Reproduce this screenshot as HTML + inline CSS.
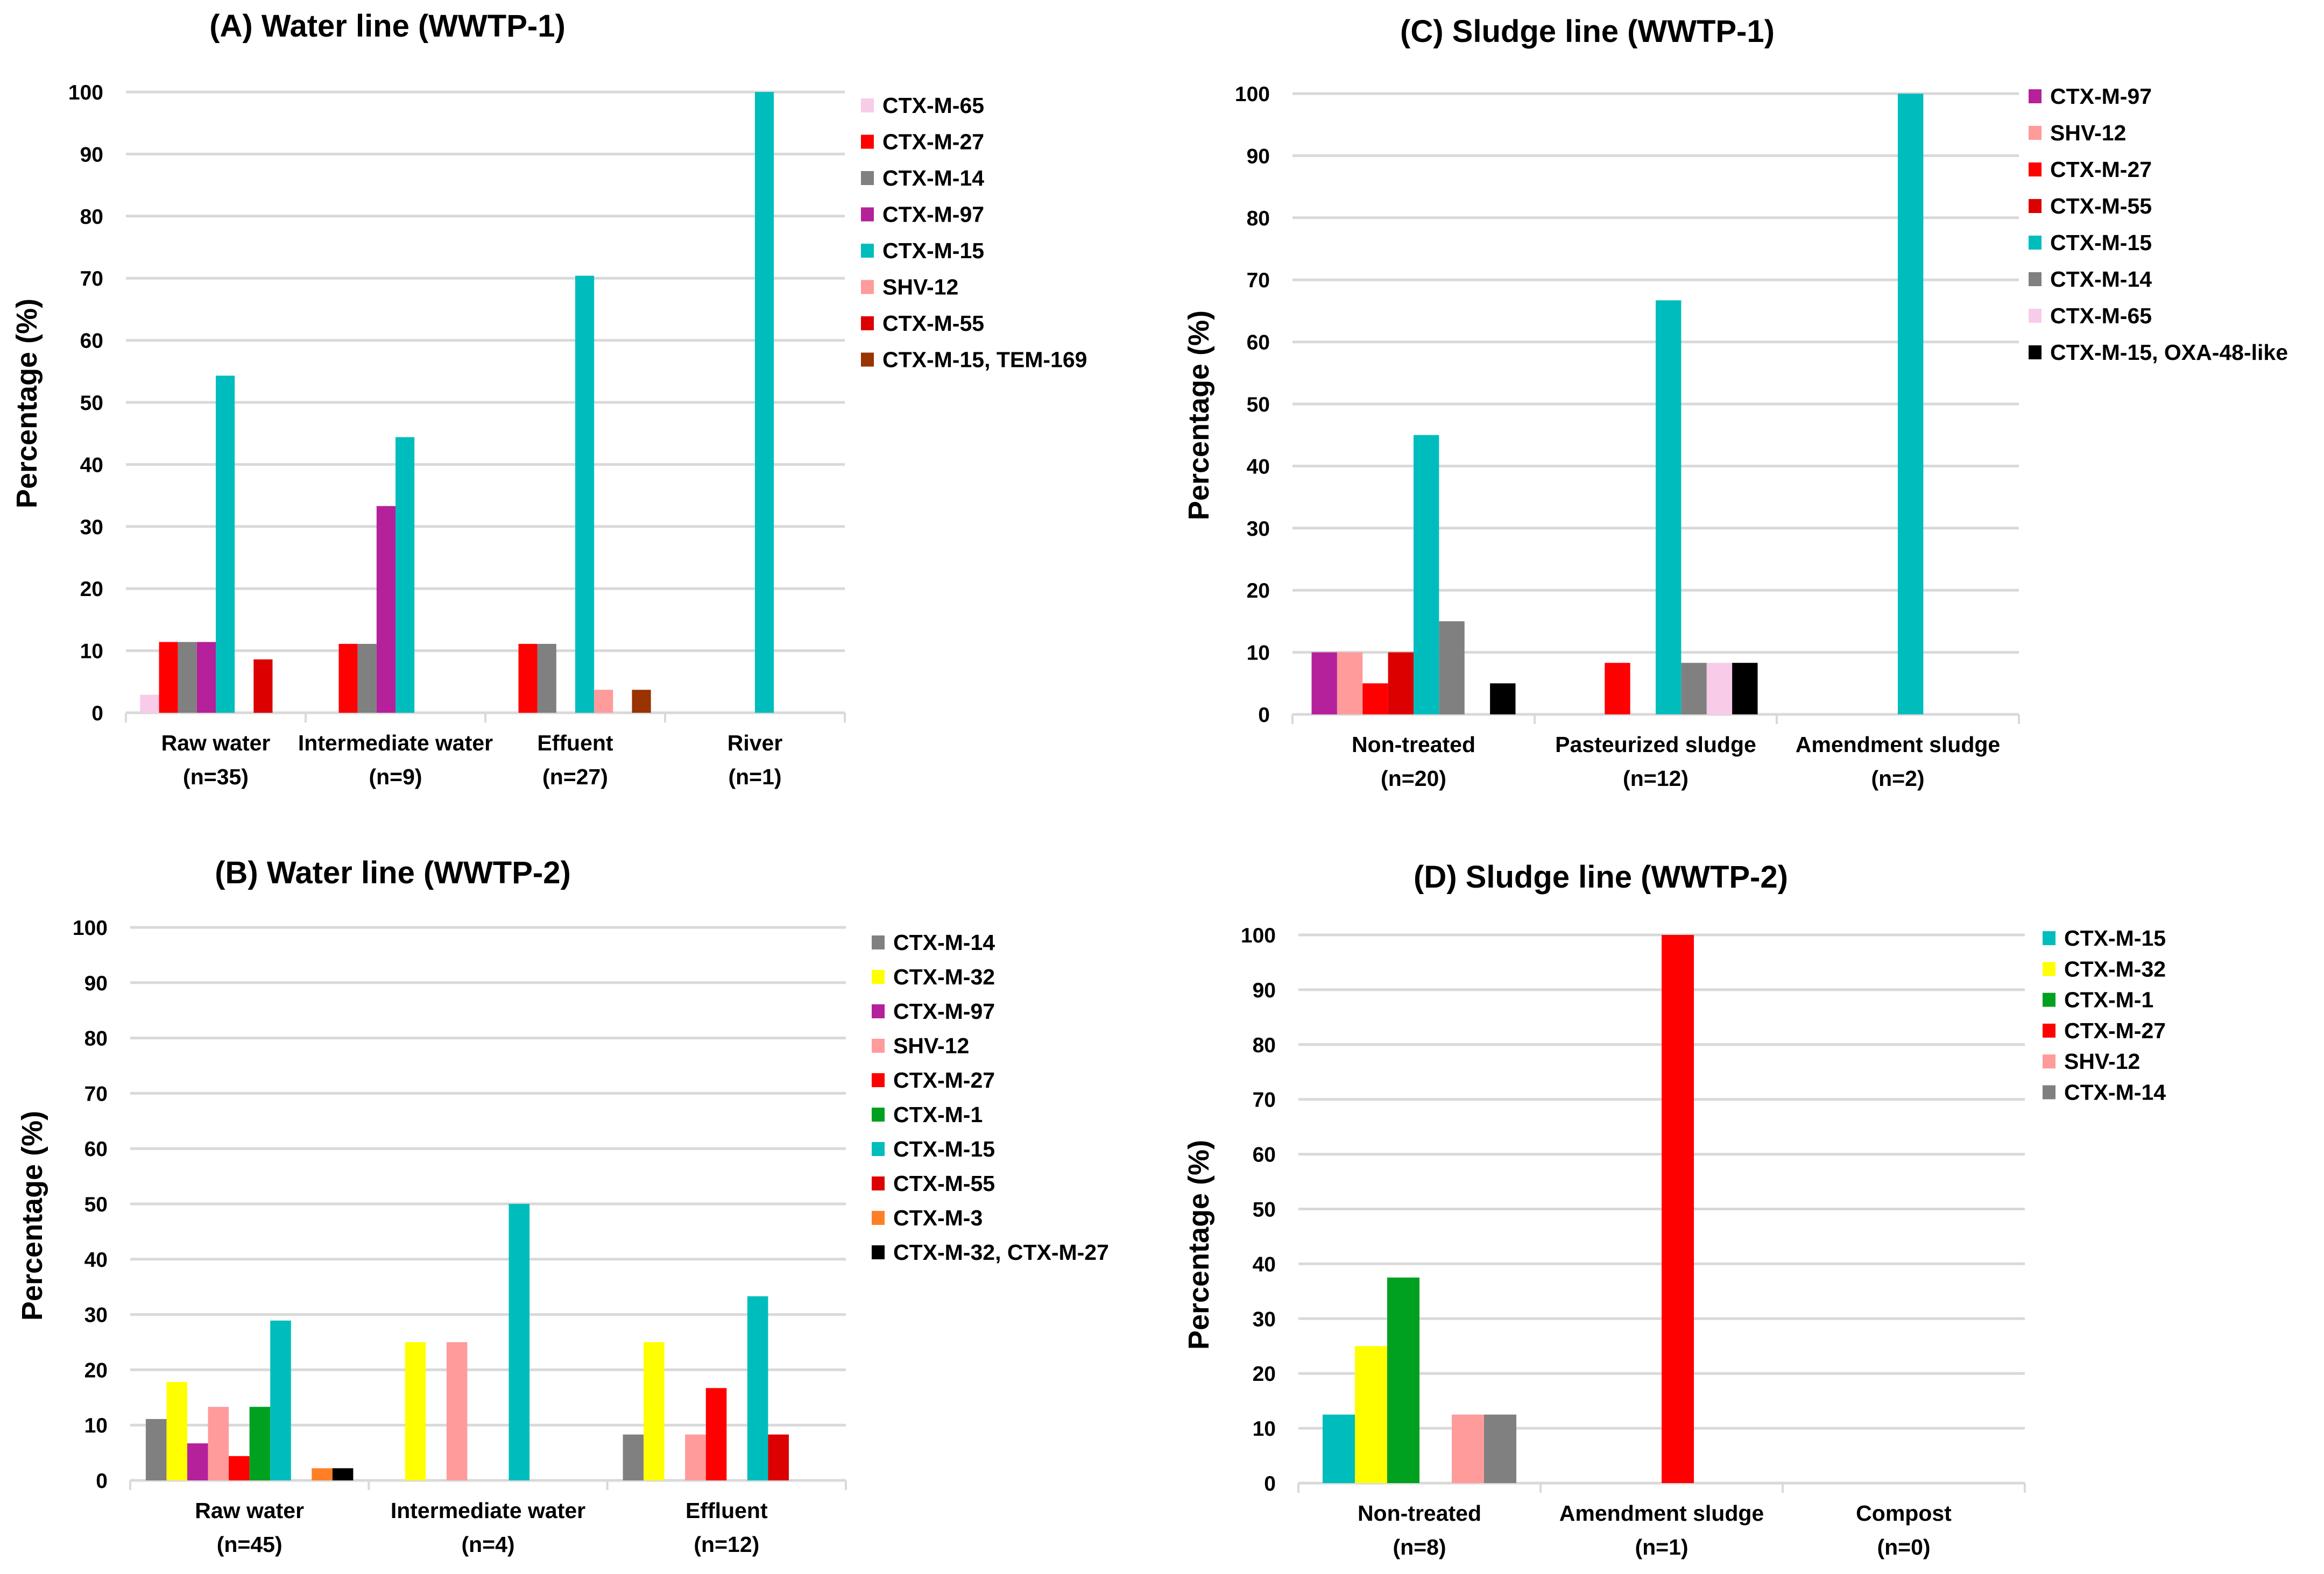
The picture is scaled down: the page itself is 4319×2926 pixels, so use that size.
<!DOCTYPE html>
<html><head><meta charset="utf-8"><style>
html,body{margin:0;padding:0;background:#fff;}
svg{display:block;font-family:"Liberation Sans",Arial,sans-serif;}
</style></head><body>
<svg id="fig" width="4319" height="2926" viewBox="0 0 4319 2926" xmlns="http://www.w3.org/2000/svg"></svg>
<script>
// ---- Panel A data ----
const aCats = [["Raw water","(n=35)"],["Intermediate water","(n=9)"],["Effuent","(n=27)"],["River","(n=1)"]];
const aSeries = ["CTX-M-65","CTX-M-27","CTX-M-14","CTX-M-97","CTX-M-15","SHV-12","CTX-M-55","CTX-M-15, TEM-169"];
const aValues = [
  [2.9,0,0,0],
  [11.4,11.1,11.1,0],
  [11.4,11.1,11.1,0],
  [11.4,33.3,0,0],
  [54.3,44.4,70.4,100],
  [0,0,3.7,0],
  [8.6,0,0,0],
  [0,0,3.7,0]
];
// ---- Panel C data ----
const cCats = [["Non-treated","(n=20)"],["Pasteurized sludge","(n=12)"],["Amendment sludge","(n=2)"]];
const cSeries = ["CTX-M-97","SHV-12","CTX-M-27","CTX-M-55","CTX-M-15","CTX-M-14","CTX-M-65","CTX-M-15, OXA-48-like"];
const cValues = [
  [10,0,0],
  [10,0,0],
  [5,8.3,0],
  [10,0,0],
  [45,66.7,100],
  [15,8.3,0],
  [0,8.3,0],
  [5,8.3,0]
];
// ---- Panel B data ----
const bCats = [["Raw water","(n=45)"],["Intermediate water","(n=4)"],["Effluent","(n=12)"]];
const bSeries = ["CTX-M-14","CTX-M-32","CTX-M-97","SHV-12","CTX-M-27","CTX-M-1","CTX-M-15","CTX-M-55","CTX-M-3","CTX-M-32, CTX-M-27"];
const bValues = [
  [11.1,0,8.3],
  [17.8,25,25],
  [6.7,0,0],
  [13.3,25,8.3],
  [4.4,0,16.7],
  [13.3,0,0],
  [28.9,50,33.3],
  [0,0,8.3],
  [2.2,0,0],
  [2.2,0,0]
];
// ---- Panel D data ----
const dCats = [["Non-treated","(n=8)"],["Amendment sludge","(n=1)"],["Compost","(n=0)"]];
const dSeries = ["CTX-M-15","CTX-M-32","CTX-M-1","CTX-M-27","SHV-12","CTX-M-14"];
const dValues = [
  [12.5,0,0],
  [25,0,0],
  [37.5,0,0],
  [0,100,0],
  [12.5,0,0],
  [12.5,0,0]
];
const yTicks = [0,10,20,30,40,50,60,70,80,90,100];

const COLORS = {
 "CTX-M-65":"#f8cbe9","CTX-M-27":"#ff0000","CTX-M-14":"#808080","CTX-M-97":"#b4219a",
 "CTX-M-15":"#00bdbd","SHV-12":"#ff9b9b","CTX-M-55":"#dc0000","CTX-M-15, TEM-169":"#993300",
 "CTX-M-15, OXA-48-like":"#000000","CTX-M-32":"#ffff00","CTX-M-1":"#00a020","CTX-M-3":"#ff7f27",
 "CTX-M-32, CTX-M-27":"#000000"
};
const NS="http://www.w3.org/2000/svg";
const svg=document.getElementById('fig');
function mk(tag,attrs,parent){const e=document.createElementNS(NS,tag);for(const k in attrs)e.setAttribute(k,attrs[k]);(parent||svg).appendChild(e);return e;}

function chart(p){
  const g=mk('g',{});
  
  
  const yScale=v=>p.y0-(v/100)*(p.y0-p.y100);
  const cw=(p.x1-p.x0)/p.cats.length;
  const n=p.series.length;
  const bw=cw/(n+1.5);
  const xScale=(ci,si)=>p.x0+ci*cw+0.75*bw+si*bw;
  yTicks.forEach(t=>{
    const y=yScale(t);
    const l=mk('line',{x1:p.x0,x2:p.x1,y1:y,y2:y,stroke:'#d9d9d9','stroke-width':5},g);
    
    
    const tx=mk('text',{x:p.x0-42,y:y+14,'text-anchor':'end','font-size':39,'font-weight':'bold',fill:'#000'},g);
    tx.textContent=t;
    
    
  });
  for(let i=0;i<=p.cats.length;i++){
    const x=p.x0+i*cw;
    mk('line',{x1:x,x2:x,y1:p.y0,y2:p.y0+18,stroke:'#d9d9d9','stroke-width':4},g);
  }
  p.values.forEach((row,si)=>{
    row.forEach((v,ci)=>{
      if(v<=0)return;
      const y=yScale(v);
      const r=mk('rect',{x:xScale(ci,si),y:y,width:bw,height:p.y0-y,fill:COLORS[p.series[si]]},g);
      
      
    });
  });
  p.cats.forEach((c,ci)=>{
    const cx=p.x0+ci*cw+cw/2;
    const t1=mk('text',{x:cx,y:p.y0+70,'text-anchor':'middle','font-size':41,'font-weight':'bold'},g);
    t1.textContent=c[0];
    
    
    const t2=mk('text',{x:cx,y:p.y0+133,'text-anchor':'middle','font-size':41,'font-weight':'bold'},g);
    t2.textContent=c[1];
    
    
  });
  p.series.forEach((s,si)=>{
    const y=p.ly+si*p.lstep;
    const r=mk('rect',{x:p.lx,y:y-13,width:24,height:26,fill:COLORS[s]},g);
    
    
    const t=mk('text',{x:p.lx+40,y:y+14,'font-size':41,'font-weight':'bold'},g);
    t.textContent=s;
    
    
  });
  const tt=mk('text',{x:p.tx,y:p.ty,'text-anchor':'middle','font-size':58,'font-weight':'bold'},g);
  tt.textContent=p.title;
  
  
  const yt=mk('text',{x:0,y:0,'text-anchor':'middle','font-size':54,'font-weight':'bold',transform:`translate(${p.yax},${p.yay}) rotate(-90)`},g);
  yt.textContent='Percentage (%)';
  
  
}

chart({name:'panel-a-chart',title:'(A) Water line (WWTP-1)',cats:aCats,series:aSeries,values:aValues,
  x0:234,x1:1570,y100:171,y0:1325,lx:1600,ly:196,lstep:67.5,tx:720,ty:68,yax:68,yay:750});
chart({name:'panel-c-chart',title:'(C) Sludge line (WWTP-1)',cats:cCats,series:cSeries,values:cValues,
  x0:2402,x1:3752,y100:174,y0:1328,lx:3770,ly:179,lstep:68,tx:2950,ty:78,yax:2246,yay:772});
chart({name:'panel-b-chart',title:'(B) Water line (WWTP-2)',cats:bCats,series:bSeries,values:bValues,
  x0:242,x1:1572,y100:1724,y0:2752,lx:1620,ly:1752,lstep:64,tx:730,ty:1642,yax:78,yay:2260});
chart({name:'panel-d-chart',title:'(D) Sludge line (WWTP-2)',cats:dCats,series:dSeries,values:dValues,
  x0:2413,x1:3763,y100:1738,y0:2757,lx:3796,ly:1744,lstep:57.3,tx:2975,ty:1650,yax:2246,yay:2314});
</script>
</body></html>
